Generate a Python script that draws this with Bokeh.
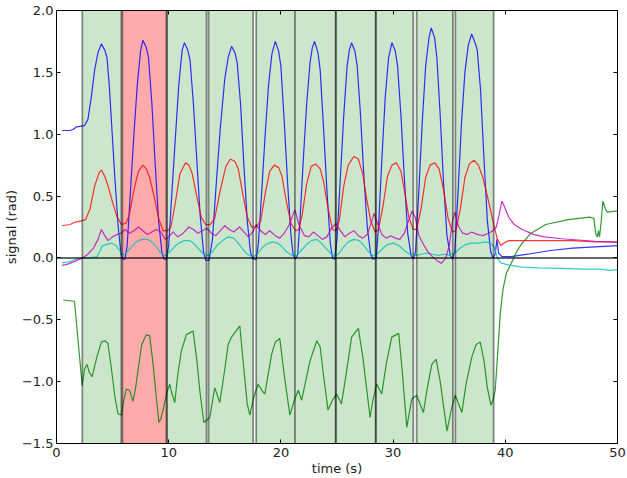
from bokeh.embed import file_html
from bokeh.models import (BoxAnnotation, CustomJSTickFormatter, FixedTicker,
                          LinearAxis, Range1d, Span)
from bokeh.plotting import figure
from bokeh.resources import INLINE

# ---- stimulus segments (seconds) ----
seg_start = [2.3, 5.87, 9.85, 13.55, 17.8, 21.25, 24.9, 28.45, 32.1, 35.55]
seg_end = [5.78, 9.8, 13.37, 17.53, 21.25, 24.88, 28.46, 31.8, 35.33, 38.96]
seg_kind = ["ok", "bad", "ok", "ok", "ok", "ok", "ok", "ok", "ok", "ok"]

# ---- signals ----
blue_t = [0.5, 1.2, 1.5, 1.8, 2.5, 2.8, 3.1, 3.4, 3.7, 4.0, 4.3, 4.5, 4.7, 4.9, 5.2, 5.5, 5.75, 5.9,
          6.1, 6.3, 6.6, 6.9, 7.2, 7.5, 7.7, 8.0, 8.2, 8.5, 8.8, 9.1, 9.4, 9.6,
          9.8, 10.0, 10.3, 10.6, 10.9, 11.2, 11.4, 11.7, 11.9, 12.2, 12.5, 12.8, 13.1, 13.3,
          13.6, 13.9, 14.2, 14.6, 15.0, 15.3, 15.6, 15.9, 16.1, 16.4, 16.7, 17.0, 17.3, 17.5,
          17.8, 18.0, 18.3, 18.6, 18.9, 19.2, 19.5, 19.8, 20.0, 20.3, 20.6, 20.9, 21.1, 21.3,
          21.5, 21.7, 22.0, 22.3, 22.6, 22.8, 23.0, 23.3, 23.5, 23.8, 24.1, 24.4, 24.6, 24.8,
          25.0, 25.3, 25.6, 25.9, 26.1, 26.3, 26.6, 26.8, 27.1, 27.4, 27.7, 28.0, 28.2,
          28.5, 28.7, 29.0, 29.3, 29.6, 29.9, 30.2, 30.4, 30.7, 31.0, 31.3, 31.6, 31.8,
          32.0, 32.3, 32.6, 32.9, 33.2, 33.4, 33.7, 33.9, 34.2, 34.5, 34.8, 35.1, 35.3,
          35.5, 35.8, 36.1, 36.4, 36.7, 37.0, 37.3, 37.5, 37.8, 38.1, 38.4, 38.7, 38.9,
          39.1, 39.25, 39.4, 39.7, 40.5, 42.0, 44.0, 46.0, 48.0, 50.0]
blue_v = [1.03, 1.03, 1.04, 1.06, 1.07, 1.12, 1.30, 1.52, 1.66, 1.73, 1.68, 1.62, 1.40, 1.10, 0.65, 0.25, 0.03, -0.01,
          -0.01, 0.10, 0.55, 1.00, 1.40, 1.68, 1.76, 1.70, 1.62, 1.25, 0.75, 0.30, 0.04, -0.01,
          -0.01, 0.10, 0.55, 0.98, 1.40, 1.68, 1.74, 1.68, 1.60, 1.25, 0.80, 0.35, 0.05, -0.02,
          -0.02, 0.15, 0.55, 1.05, 1.45, 1.62, 1.71, 1.66, 1.58, 1.25, 0.75, 0.30, 0.04, -0.01,
          -0.01, 0.12, 0.55, 1.00, 1.40, 1.65, 1.75, 1.67, 1.55, 1.10, 0.60, 0.18, 0.02, -0.01,
          0.03, 0.30, 0.80, 1.25, 1.58, 1.70, 1.75, 1.66, 1.52, 1.05, 0.55, 0.12, 0.00, -0.01,
          0.15, 0.65, 1.15, 1.55, 1.68, 1.74, 1.67, 1.55, 1.15, 0.65, 0.25, 0.03, -0.01,
          0.00, 0.25, 0.80, 1.30, 1.62, 1.74, 1.67, 1.55, 1.15, 0.65, 0.20, 0.02, -0.01,
          0.05, 0.55, 1.10, 1.55, 1.78, 1.86, 1.78, 1.62, 1.15, 0.60, 0.18, 0.02, -0.01,
          0.05, 0.55, 1.10, 1.50, 1.72, 1.81, 1.74, 1.68, 1.35, 0.80, 0.30, 0.05, 0.00,
          0.03, 0.15, 0.04, 0.01, 0.01, 0.03, 0.06, 0.08, 0.09, 0.10]

red_t = [0.5, 1.2, 1.7, 2.2, 2.6, 3.0, 3.4, 3.8, 4.0, 4.3, 4.6, 5.0, 5.4, 5.8, 6.2,
         6.5, 6.9, 7.3, 7.7, 8.0, 8.3, 8.7, 9.1, 9.5, 9.9,
         10.2, 10.6, 11.0, 11.5, 11.8, 12.1, 12.5, 12.9, 13.3, 13.7,
         14.1, 14.6, 15.1, 15.5, 15.9, 16.2, 16.6, 17.0, 17.4, 17.8,
         18.2, 18.6, 19.0, 19.4, 19.8, 20.1, 20.5, 20.9, 21.3, 21.6,
         21.9, 22.3, 22.7, 23.1, 23.5, 23.8, 24.2, 24.6, 24.9,
         25.2, 25.6, 26.0, 26.5, 26.9, 27.3, 27.6, 28.0, 28.4, 28.7,
         29.1, 29.5, 29.9, 30.3, 30.7, 31.0, 31.4, 31.8, 32.1,
         32.5, 32.9, 33.3, 33.7, 34.1, 34.5, 34.9, 35.3, 35.6,
         36.0, 36.4, 36.8, 37.2, 37.6, 38.0, 38.4, 38.8, 39.1, 39.3, 39.6,
         39.9, 40.3, 41.0, 43.0, 46.0, 48.0, 50.0]
red_v = [0.26, 0.27, 0.29, 0.30, 0.31, 0.40, 0.58, 0.69, 0.71, 0.66, 0.58, 0.45, 0.33, 0.27, 0.28,
         0.35, 0.55, 0.70, 0.75, 0.72, 0.65, 0.50, 0.32, 0.22, 0.22,
         0.25, 0.45, 0.68, 0.77, 0.75, 0.68, 0.50, 0.33, 0.27, 0.27,
         0.32, 0.55, 0.74, 0.80, 0.78, 0.72, 0.52, 0.33, 0.25, 0.25,
         0.30, 0.52, 0.70, 0.75, 0.73, 0.66, 0.45, 0.28, 0.22, 0.23,
         0.35, 0.60, 0.74, 0.76, 0.72, 0.62, 0.40, 0.23, 0.22,
         0.30, 0.58, 0.75, 0.82, 0.80, 0.68, 0.50, 0.30, 0.21, 0.23,
         0.42, 0.66, 0.75, 0.77, 0.70, 0.55, 0.33, 0.23, 0.23,
         0.40, 0.65, 0.75, 0.77, 0.72, 0.55, 0.32, 0.21, 0.22,
         0.40, 0.65, 0.76, 0.79, 0.75, 0.65, 0.50, 0.34, 0.22, 0.15, 0.10,
         0.12, 0.14, 0.14, 0.14, 0.14, 0.13, 0.13]

magenta_t = [0.5, 1.0, 1.6, 2.3, 2.8, 3.3, 3.7, 4.0, 4.3, 4.6, 5.0, 5.4, 5.8,
             6.1, 6.5, 6.9, 7.3, 7.7, 8.1, 8.5, 8.9, 9.3, 9.7,
             10.0, 10.4, 10.8, 11.3, 11.8, 12.2, 12.6, 13.0, 13.4,
             13.8, 14.2, 14.6, 15.0, 15.4, 15.8, 16.3, 16.7, 17.1, 17.5,
             17.8, 18.2, 18.6, 19.0, 19.5, 19.9, 20.3, 20.7, 21.0, 21.25,
             21.6, 22.1, 22.5, 22.9, 23.3, 23.7, 24.1, 24.5, 24.9,
             25.3, 25.7, 26.1, 26.5, 26.9, 27.3, 27.7, 28.1, 28.3,
             28.6, 29.0, 29.4, 29.8, 30.2, 30.6, 31.0, 31.3, 31.7,
             32.0, 32.3, 32.7, 33.1, 33.5, 33.9, 34.3, 34.7, 35.0, 35.3,
             35.5, 35.8, 36.2, 36.6, 37.0, 37.5, 38.0, 38.5, 38.9,
             39.2, 39.45, 39.7, 39.9, 40.3, 40.8, 41.5, 42.5, 43.5, 45.0, 46.5, 48.0, 50.0]
magenta_v = [-0.06, -0.05, -0.03, 0.00, 0.03, 0.08, 0.15, 0.23, 0.18, 0.14, 0.17, 0.19, 0.20,
             0.23, 0.20, 0.22, 0.25, 0.22, 0.19, 0.21, 0.23, 0.21, 0.15,
             0.17, 0.21, 0.17, 0.20, 0.25, 0.23, 0.20, 0.22, 0.24,
             0.20, 0.18, 0.22, 0.26, 0.23, 0.21, 0.25, 0.21, 0.17, 0.21,
             0.27, 0.22, 0.19, 0.22, 0.18, 0.16, 0.20, 0.26, 0.33, 0.39,
             0.27, 0.18, 0.17, 0.21, 0.18, 0.15, 0.17, 0.24, 0.28,
             0.22, 0.17, 0.20, 0.22, 0.18, 0.16, 0.19, 0.30, 0.36,
             0.28, 0.19, 0.16, 0.18, 0.16, 0.15, 0.20, 0.28, 0.38,
             0.32, 0.18, 0.11, 0.05, 0.01, -0.02, -0.045, 0.00, 0.10, 0.30,
             0.37, 0.26, 0.20, 0.19, 0.21, 0.19, 0.18, 0.20, 0.22,
             0.25, 0.35, 0.46, 0.42, 0.33, 0.27, 0.23, 0.19, 0.17, 0.155, 0.145, 0.135, 0.125]

cyan_t = [0.5, 1.2, 1.8, 2.3, 3.0, 3.6, 3.9, 4.1, 4.5, 4.9, 5.3, 5.7, 6.0,
          6.3, 6.7, 7.1, 7.6, 8.1, 8.5, 8.9, 9.3, 9.7,
          10.1, 10.5, 10.9, 11.4, 11.9, 12.3, 12.7, 13.1, 13.5,
          13.9, 14.3, 14.8, 15.3, 15.8, 16.2, 16.6, 17.0, 17.5,
          17.9, 18.3, 18.7, 19.2, 19.7, 20.1, 20.5, 21.0, 21.4,
          21.8, 22.2, 22.7, 23.2, 23.6, 24.0, 24.4, 24.8,
          25.2, 25.6, 26.0, 26.5, 27.0, 27.4, 27.8, 28.2,
          28.6, 29.0, 29.5, 30.0, 30.5, 31.0, 31.5, 32.0,
          32.5, 33.0, 33.5, 34.0, 34.5, 35.0, 35.5,
          36.0, 36.5, 37.0, 37.6, 38.2, 38.7, 39.0, 39.3, 39.6,
          40.0, 40.5, 41.5, 43.0, 45.0, 47.0, 48.5, 49.2, 50.0]
cyan_v = [-0.04, -0.03, -0.01, 0.00, 0.00, 0.01, 0.06, 0.10, 0.11, 0.12, 0.10, 0.05, 0.02,
          0.05, 0.09, 0.13, 0.15, 0.15, 0.13, 0.09, 0.04, 0.02,
          0.05, 0.09, 0.12, 0.14, 0.14, 0.11, 0.07, 0.03, 0.02,
          0.05, 0.10, 0.14, 0.17, 0.16, 0.12, 0.07, 0.03, 0.01,
          0.03, 0.08, 0.11, 0.13, 0.12, 0.09, 0.05, 0.02, 0.02,
          0.06, 0.10, 0.14, 0.15, 0.12, 0.08, 0.04, 0.01,
          0.04, 0.09, 0.13, 0.15, 0.14, 0.10, 0.05, 0.02,
          0.03, 0.07, 0.11, 0.12, 0.10, 0.06, 0.03, 0.02,
          0.03, 0.04, 0.03, 0.02, 0.03, 0.02, 0.04,
          0.08, 0.11, 0.12, 0.12, 0.13, 0.12, 0.09, 0.00, -0.04,
          -0.05, -0.06, -0.075, -0.08, -0.085, -0.09, -0.09, -0.10, -0.095]

green_t = [0.6, 1.6, 2.29, 2.5, 2.71, 2.95, 3.18, 3.6, 4.0, 4.3, 4.58, 4.9, 5.2, 5.48, 5.78,
           6.0, 6.22, 6.52, 6.82, 7.05, 7.26, 7.6, 8.0, 8.3, 8.6, 8.9, 9.13, 9.3, 9.49,
           9.8, 10.09, 10.3, 10.54, 10.8, 11.13, 11.58, 12.17, 12.5, 12.77, 13.13, 13.4,
           13.66, 14.1, 14.3, 14.55, 15.0, 15.3, 15.6, 16.34, 16.7, 17.0, 17.23,
           17.6, 17.97, 18.3, 18.57, 18.85, 19.17, 19.5, 19.9, 20.3, 20.8,
           21.2, 21.55, 21.85, 22.2, 22.6, 23.2, 23.5, 23.8, 24.2,
           24.6, 24.97, 25.4, 25.8, 26.3, 26.9, 27.3, 27.95,
           28.2, 28.54, 28.99, 29.4, 29.88, 30.5, 30.8, 31.22,
           31.45, 31.67, 32.1, 32.4, 32.7, 33.05, 33.45, 33.84, 34.2, 34.5, 34.8,
           35.2, 35.54, 35.8, 36.13, 36.5, 37.02, 37.4, 37.77, 38.1, 38.4, 38.72,
           38.9, 39.1, 39.3, 39.55, 39.8, 40.1, 40.5, 41.0, 41.5, 42.3, 43.6, 45.6,
           47.5, 47.9, 48.05, 48.2, 48.3, 48.4, 48.55, 48.7, 48.9, 49.1, 50.0]
green_v = [-0.34, -0.35, -1.03, -0.90, -0.86, -0.93, -0.96, -0.80, -0.68, -0.67, -0.69, -0.90, -1.12, -1.26, -1.27,
           -1.15, -1.06, -1.07, -1.16, -1.05, -0.91, -0.70, -0.62, -0.63, -0.85, -1.13, -1.33, -1.30, -1.23,
           -1.10, -1.02, -1.10, -1.17, -0.95, -0.75, -0.62, -0.59, -0.82, -1.07, -1.33, -1.31,
           -1.29, -1.05, -1.10, -1.17, -0.90, -0.70, -0.64, -0.55, -0.90, -1.18, -1.27,
           -1.12, -1.02, -1.07, -1.10, -0.95, -0.78, -0.68, -0.65, -0.95, -1.27,
           -1.15, -1.07, -1.15, -1.00, -0.83, -0.67, -0.72, -0.95, -1.23,
           -1.15, -1.10, -1.18, -0.95, -0.64, -0.57, -0.80, -1.29,
           -1.15, -1.02, -1.10, -0.85, -0.64, -0.61, -0.90, -1.37,
           -1.25, -1.14, -1.11, -1.18, -1.25, -1.05, -0.86, -0.82, -1.00, -1.20, -1.40,
           -1.22, -1.11, -1.17, -1.25, -1.02, -0.80, -0.70, -0.68, -0.83, -1.05, -1.19,
           -1.15, -1.07, -0.80, -0.45, -0.25, -0.12, -0.05, 0.05, 0.12, 0.20, 0.27, 0.31,
           0.33, 0.32, 0.20, 0.17, 0.22, 0.17, 0.30, 0.46, 0.40, 0.37, 0.38]

x_ticks = [0, 10, 20, 30, 40, 50]
y_ticks = [-1.5, -1.0, -0.5, 0.0, 0.5, 1.0, 1.5, 2.0]

FONT = "DejaVu Sans"
TXT = "#222222"

p = figure(width=627, height=478, output_backend="svg", toolbar_location=None,
           x_range=Range1d(x_ticks[0], x_ticks[-1]), y_range=Range1d(y_ticks[0], y_ticks[-1]),
           min_border_left=56, min_border_right=10, min_border_top=10, min_border_bottom=0,
           x_axis_label="time (s)", y_axis_label="signal (rad)")
p.xgrid.visible = False
p.ygrid.visible = False
p.outline_line_color = "black"
p.outline_line_width = 1
p.background_fill_color = "white"
p.border_fill_color = "white"

# shaded segments
for s, e, k in zip(seg_start, seg_end, seg_kind):
    col = "#008000" if k == "ok" else "#ff0000"
    alpha = 0.2 if k == "ok" else 0.33
    p.add_layout(BoxAnnotation(left=s, right=e, fill_color=col, fill_alpha=alpha,
                               line_alpha=0, level="underlay"))

# signal traces
p.line(blue_t, blue_v, line_color="#0000ff", line_width=1.2, line_alpha=0.8)
p.line(green_t, green_v, line_color="#008000", line_width=1.2, line_alpha=0.8)
p.line(red_t, red_v, line_color="#ff0000", line_width=1.2, line_alpha=0.8)
p.line(cyan_t, cyan_v, line_color="#00bfbf", line_width=1.2, line_alpha=0.8)
p.line(magenta_t, magenta_v, line_color="#bf00bf", line_width=1.2, line_alpha=0.8)

# segment boundaries and zero line
for loc in sorted(set(seg_start + seg_end)):
    p.add_layout(Span(location=loc, dimension="height", line_color="black",
                      line_alpha=0.45, line_width=1.8))
p.add_layout(Span(location=0, dimension="width", line_color="black",
                  line_alpha=0.6, line_width=2))

fmt_y = CustomJSTickFormatter(code="return (tick < 0 ? '\\u2212' : '') + Math.abs(tick).toFixed(1);")
fmt_x = CustomJSTickFormatter(code="return (tick < 0 ? '\\u2212' : '') + Math.abs(tick).toFixed(0);")
blank = CustomJSTickFormatter(code="return '';")


def style_axis(ax, ticks, fmt, labels=True):
    ax.ticker = FixedTicker(ticks=ticks)
    ax.formatter = fmt
    ax.minor_tick_line_color = None
    ax.major_tick_in = 4
    ax.major_tick_out = 0
    ax.major_tick_line_color = "black"
    ax.axis_line_color = "black"
    if labels:
        ax.major_label_text_font = FONT
        ax.major_label_text_font_size = "13px"
        ax.major_label_text_color = TXT
        ax.major_label_standoff = 3
        ax.axis_label_text_font = FONT
        ax.axis_label_text_font_size = "13px"
        ax.axis_label_text_font_style = "normal"
        ax.axis_label_text_color = TXT
        ax.axis_label_standoff = 0
    else:
        ax.major_label_text_font_size = "1px"
        ax.major_label_standoff = 0


style_axis(p.xaxis[0], x_ticks, fmt_x)
style_axis(p.yaxis[0], y_ticks, fmt_y)
p.xaxis[0].major_label_standoff = 4
p.xaxis[0].axis_label_standoff = 1

top_ax = LinearAxis()
right_ax = LinearAxis()
style_axis(top_ax, x_ticks, blank, labels=False)
style_axis(right_ax, y_ticks, blank, labels=False)
p.add_layout(top_ax, "above")
p.add_layout(right_ax, "right")

open("out.html", "w").write(file_html(p, INLINE))
